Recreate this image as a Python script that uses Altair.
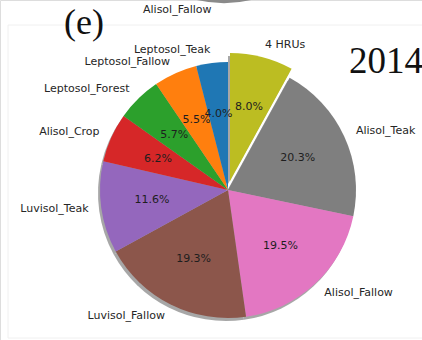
import altair as alt
import pandas as pd

labels = ["4 HRUs", "Alisol_Teak", "Alisol_Fallow", "Luvisol_Fallow", "Luvisol_Teak",
          "Alisol_Crop", "Leptosol_Forest", "Leptosol_Fallow", "Leptosol_Teak"]
shares = [8.0, 20.3, 19.5, 19.3, 11.6, 6.2, 5.7, 5.5, 4.0]
colors = ["#bcbd22", "#7f7f7f", "#e377c2", "#8c564b", "#9467bd",
          "#d62728", "#2ca02c", "#ff7f0e", "#1f77b4"]
exploded = [True, False, False, False, False, False, False, False, False]

prev_label = ["Alisol_Fallow"]
panel_tag = ["(e)"]
year = ["2014"]

df = pd.DataFrame({"label": labels, "share": shares, "color": colors, "exploded": exploded})
total = float(sum(shares))
df["start"] = df["share"].cumsum() - df["share"]
df["end"] = df["share"].cumsum()
df["mid"] = (df["start"] + df["end"]) / 2
df["pct"] = df["share"].map(lambda v: f"{v:.1f}%")
df["side"] = df["mid"].map(lambda m: "right" if m < total / 2 else "left")

W, H = 422, 340
CX, CY, R = 228, 190, 128
EX, EY = 2, -9          # explode offset
SX, SY = -2, 3          # shadow offset

theta_scale = alt.Scale(domain=[0, total], range=[0, 6.283185307])
FONT = "DejaVu Sans"

base = alt.Chart(df)

def center(expl, dx=0, dy=0):
    if expl:
        return alt.value(CX + EX + dx), alt.value(CY + EY + dy)
    return alt.value(CX + dx), alt.value(CY + dy)

layers = []

# faint frame lines of the figure panel
frame = pd.DataFrame({"k": [0]})
layers.append(alt.Chart(frame).mark_rule(color="#f0f0f0", strokeWidth=1).encode(
    x=alt.value(8), x2=alt.value(W), y=alt.value(25)))
layers.append(alt.Chart(frame).mark_rule(color="#f0f0f0", strokeWidth=1).encode(
    x=alt.value(8), y=alt.value(25), y2=alt.value(338)))
layers.append(alt.Chart(frame).mark_rule(color="#f0f0f0", strokeWidth=1).encode(
    x=alt.value(8), x2=alt.value(W), y=alt.value(338)))

# bottom edge of the previous panel's pie (cut off at the top)
layers.append(alt.Chart(frame).mark_arc(color="#8a8a8a", radius=123).encode(
    theta=alt.value(2.82), theta2=alt.value(3.46),
    x=alt.value(224), y=alt.value(-120)))

# shadows
for expl in (False, True):
    x, y = center(expl, SX, SY)
    layers.append(base.transform_filter(alt.datum.exploded == expl).mark_arc(
        radius=R, color="#8a8a8a", opacity=0.75).encode(
        theta=alt.Theta("start:Q", scale=theta_scale),
        theta2="end:Q", x=x, y=y))

# slices
for expl in (False, True):
    x, y = center(expl)
    layers.append(base.transform_filter(alt.datum.exploded == expl).mark_arc(
        radius=R).encode(
        theta=alt.Theta("start:Q", scale=theta_scale),
        theta2="end:Q",
        color=alt.Color("color:N", scale=None),
        x=x, y=y))

# percentage labels
for expl in (False, True):
    x, y = center(expl)
    layers.append(base.transform_filter(alt.datum.exploded == expl).mark_text(
        radius=R * 0.6, font=FONT, fontSize=11, color="#1e1e1e",
        align="center", baseline="middle").encode(
        theta=alt.Theta("mid:Q", scale=theta_scale),
        text="pct:N", x=x, y=y))

# category labels
for expl in (False, True):
    for side in ("left", "right"):
        x, y = center(expl)
        layers.append(base.transform_filter(
            (alt.datum.exploded == expl) & (alt.datum.side == side)).mark_text(
            radius=R * 1.1, font=FONT, fontSize=11, color="#262626",
            align="left" if side == "right" else "right", baseline="middle").encode(
            theta=alt.Theta("mid:Q", scale=theta_scale),
            text="label:N", x=x, y=y))

# texts around
layers.append(alt.Chart(pd.DataFrame({"t": prev_label})).mark_text(
    font=FONT, fontSize=11, color="#262626", align="left", baseline="middle").encode(
    text="t:N", x=alt.value(143), y=alt.value(10)))
layers.append(alt.Chart(pd.DataFrame({"t": panel_tag})).mark_text(
    font="Liberation Serif", fontSize=36, color="#111111", align="left",
    baseline="alphabetic").encode(text="t:N", x=alt.value(64), y=alt.value(34)))
layers.append(alt.Chart(pd.DataFrame({"t": year})).mark_text(
    font="Liberation Serif", fontSize=37, color="#111111", align="left",
    baseline="alphabetic").encode(text="t:N", x=alt.value(349), y=alt.value(73)))

chart = alt.layer(*layers).properties(
    width=W, height=H, autosize=alt.AutoSizeParams(type="none"), padding=0
).configure_view(stroke=None).configure(background="white")

chart.save("out.html", embed_options={"renderer": "svg", "actions": False})
